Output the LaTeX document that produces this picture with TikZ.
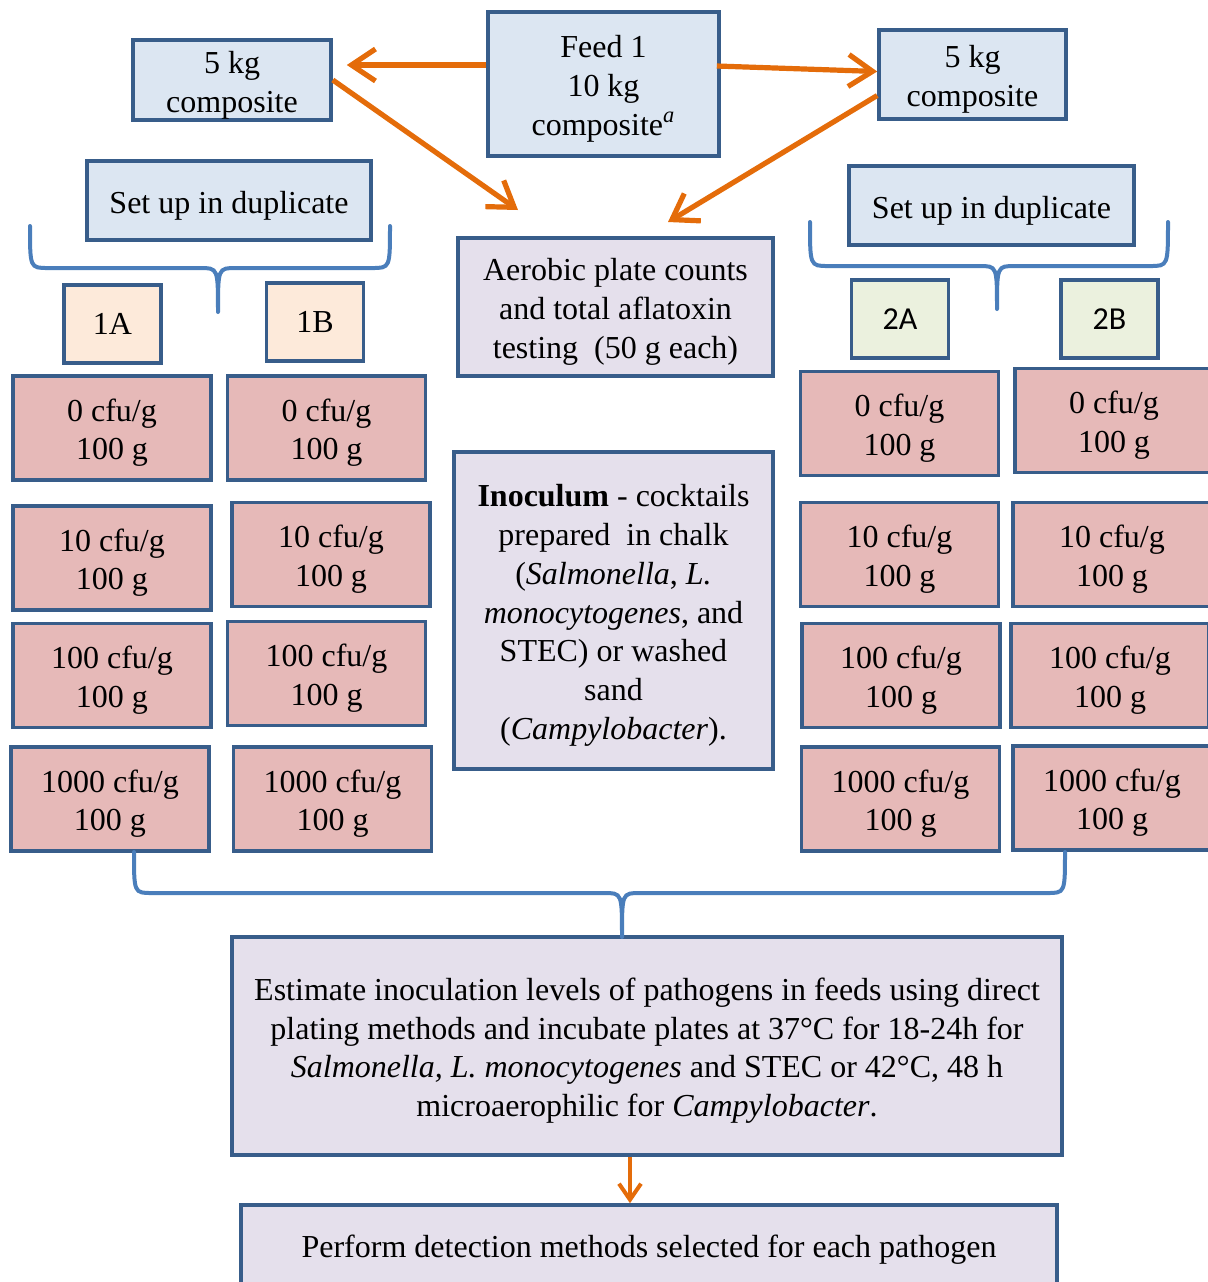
\documentclass[tikz,border=0pt]{standalone}
\usepackage{fontspec}
\setmainfont{Liberation Serif}
\newfontfamily\tagfont{Carlito}
\usetikzlibrary{arrows.meta,positioning}
\definecolor{boxedge}{HTML}{385D8A}
\definecolor{compfill}{HTML}{DCE6F2}
\definecolor{notefill}{HTML}{E5E0EC}
\definecolor{onefill}{HTML}{FDEADA}
\definecolor{twofill}{HTML}{EBF1DE}
\definecolor{cfufill}{HTML}{E6B9B8}
\definecolor{flowcol}{HTML}{E46C0A}
\definecolor{bracecol}{HTML}{4A7EBB}
\newcommand{\boxfont}{\fontsize{16}{19.4}\selectfont}
% taller first line, so the text sits a little low in its box
\newcommand{\st}{\rule{0pt}{16pt}}
\tikzset{
    stage/.style={
    rectangle,draw=boxedge,line width=1.8pt,inner sep=2pt,align=center,font=\boxfont
    },
    composite/.style={
    stage,fill=compfill
    },
    notebox/.style={
    stage,fill=notefill
    },
    tagone/.style={
    stage,fill=onefill,minimum width=48.5pt,minimum height=39pt
    },
    tagtwo/.style={
    stage,fill=twofill,minimum width=48.5pt,minimum height=39pt,font=\tagfont\boxfont
    },
    cfu/.style={
    stage,fill=cfufill,minimum width=99pt,minimum height=52pt
    },
    flow/.style={
    draw=flowcol,line width=2.6pt,-{Straight Barb[length=12pt,width=16pt]}
    },
    bracket/.style={
    draw=bracecol,line width=2pt,line cap=round
    },
}
\begin{document}
\begin{tikzpicture}[x=0.5pt,y=-0.5pt]
   \useasboundingbox (0,0) rectangle (1208,1282);
   \clip (0,0) rectangle (1208,1282);
   % feed and composites
   \node[composite,minimum width=115.5pt,minimum height=72pt] (feed) at (603.5,84) {\st Feed 1\\10 kg\\composite\textsuperscript{\textit{a}}};
   \node[composite,inner ysep=0pt,minimum width=99pt,minimum height=40pt] (compL) at (232,80) {\st 5 kg\\composite};
   \node[composite,inner ysep=0pt,minimum width=93.5pt,minimum height=44.5pt] (compR) at (972.5,74.5) {\st 5 kg\\composite};
   \node[composite,minimum width=142pt,minimum height=39.5pt] (dupL) at (229,200.5) {\st Set up in duplicate};
   \node[composite,minimum width=142.5pt,minimum height=39.5pt] (dupR) at (991.5,205.5) {\st Set up in duplicate};
   \node[notebox,minimum width=157.5pt,minimum height=69pt] (apc) at (615.5,307) {\st Aerobic plate counts\\and total aflatoxin\\testing\ \ (50 g each)};
   \coordinate (apcL) at (518,210);
   \coordinate (apcR) at (668,222);

   % replicates
   \node[tagone] (oneA) at (112.5,324) {1A};
   \node[tagone] (oneB) at (315,322) {1B};
   \node[tagtwo] (twoA) at (900,319) {2A};
   \node[tagtwo] (twoB) at (1109.5,319) {2B};

   \node[cfu] (oneA0) at (112,428) {\st 0 cfu/g\\100 g};
   \node[cfu] (oneA1) at (112,558) {\st 10 cfu/g\\100 g};
   \node[cfu] (oneA2) at (112,675.5) {\st 100 cfu/g\\100 g};
   \node[cfu] (oneA3) at (110,799) {\st 1000 cfu/g\\100 g};
   \node[cfu] (oneB0) at (326.5,428) {\st 0 cfu/g\\100 g};
   \node[cfu] (oneB1) at (331,554.5) {\st 10 cfu/g\\100 g};
   \node[cfu] (oneB2) at (326.5,673.5) {\st 100 cfu/g\\100 g};
   \node[cfu] (oneB3) at (332.5,799) {\st 1000 cfu/g\\100 g};
   \node[cfu] (twoA0) at (899.5,423.5) {\st 0 cfu/g\\100 g};
   \node[cfu] (twoA1) at (899.5,554.5) {\st 10 cfu/g\\100 g};
   \node[cfu] (twoA2) at (901,675.5) {\st 100 cfu/g\\100 g};
   \node[cfu] (twoA3) at (900.5,799) {\st 1000 cfu/g\\100 g};
   \node[cfu] (twoB0) at (1114,420.5) {\st 0 cfu/g\\100 g};
   \node[cfu] (twoB1) at (1112,554.5) {\st 10 cfu/g\\100 g};
   \node[cfu] (twoB2) at (1110,675.5) {\st 100 cfu/g\\100 g};
   \node[cfu] (twoB3) at (1112,798) {\st 1000 cfu/g\\100 g};

   \node[notebox,minimum width=159.5pt,minimum height=158.5pt] (inoc) at (613.5,610.5)
      {\st\textbf{Inoculum} - cocktails\\prepared\ \ in chalk\\(\textit{Salmonella}, \textit{L.}\\\textit{monocytogenes}, and\\STEC) or washed\\sand\\(\textit{Campylobacter}).};

   % plating and detection
   \node[notebox,minimum width=415pt,minimum height=109pt] (est) at (647,1046)
      {\st Estimate inoculation levels of pathogens in feeds using direct\\plating methods and incubate plates at 37\textdegree C for 18-24h for\\\textit{Salmonella, L. monocytogenes} and STEC or 42\textdegree C, 48 h\\microaerophilic for \textit{Campylobacter}.};
   \node[notebox,minimum width=408pt,minimum height=45pt] (perform) at (649,1250) {Perform detection methods selected for each pathogen};

   % arrows
   \path[flow,shorten >=7pt] ([yshift=9.5pt]feed.west) -- ([yshift=7.5pt]compL.east);
   \path[flow] ([yshift=9pt,xshift=-2pt]feed.east) -- ([yshift=1.5pt]compR.west);
   \path[flow] (compL.east) -- (apcL);
   \path[flow] ([yshift=-10.5pt]compR.west) -- (apcR);
   \path[flow,line width=2pt,-{Straight Barb[length=8pt,width=11pt]}] ([xshift=-8.5pt]est.south) -- ([xshift=-9.5pt]perform.north);

   % braces
   \draw[bracket] (30,226) .. controls (30,268) .. (48,268) -- (200,268) .. controls (218,268) .. (218,312)
                  (390,226) .. controls (390,268) .. (372,268) -- (236,268) .. controls (218,268) .. (218,312);
   \draw[bracket] (810,222) .. controls (810,266) .. (828,266) -- (979,266) .. controls (997,266) .. (997,309)
                  (1168,222) .. controls (1168,266) .. (1150,266) -- (1015,266) .. controls (997,266) .. (997,309);
   \draw[bracket] (134,852) .. controls (134,893) .. (152,893) -- (604,893) .. controls (622,893) .. (622,937)
                  (1065,852) .. controls (1065,893) .. (1047,893) -- (640,893) .. controls (622,893) .. (622,937);
\end{tikzpicture}
\end{document}
